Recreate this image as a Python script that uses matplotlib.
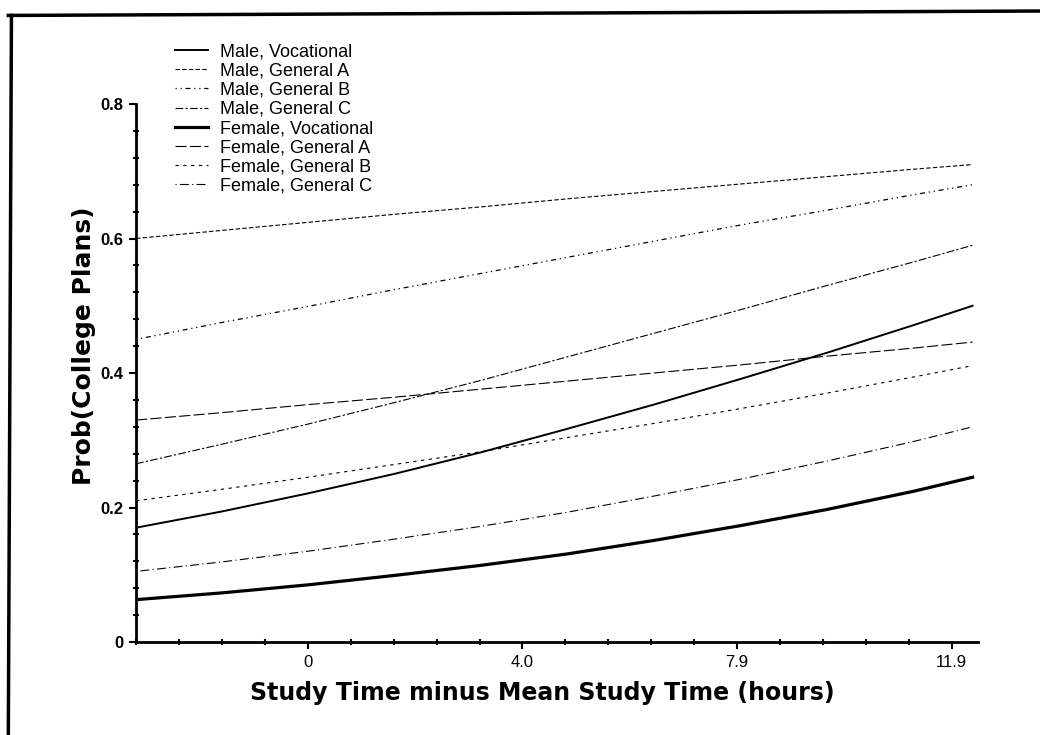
import matplotlib
matplotlib.use("Agg")
import matplotlib.pyplot as plt
from matplotlib.lines import Line2D
from matplotlib.ticker import FixedLocator, MultipleLocator

plt.rcParams['font.family'] = ['Liberation Sans', 'DejaVu Sans']

# study time minus mean (hours)
x = [-3.18, -1.6, 0.0, 1.6, 3.2, 4.8, 6.4, 8.0, 9.6, 11.2, 12.3]

male_voc = [0.170, 0.194, 0.221, 0.250, 0.282, 0.317, 0.353, 0.391, 0.430, 0.471, 0.500]
male_gen_a = [0.600, 0.612, 0.624, 0.636, 0.647, 0.659, 0.670, 0.681, 0.692, 0.703, 0.710]
male_gen_b = [0.450, 0.475, 0.499, 0.524, 0.548, 0.572, 0.596, 0.620, 0.642, 0.665, 0.680]
male_gen_c = [0.265, 0.294, 0.324, 0.356, 0.389, 0.424, 0.459, 0.494, 0.530, 0.565, 0.590]
female_voc = [0.063, 0.073, 0.085, 0.099, 0.114, 0.131, 0.151, 0.173, 0.197, 0.224, 0.245]
female_gen_a = [0.330, 0.341, 0.353, 0.364, 0.376, 0.388, 0.400, 0.412, 0.425, 0.437, 0.446]
female_gen_b = [0.210, 0.227, 0.245, 0.264, 0.283, 0.304, 0.325, 0.347, 0.370, 0.394, 0.411]
female_gen_c = [0.105, 0.119, 0.135, 0.153, 0.172, 0.193, 0.217, 0.242, 0.269, 0.298, 0.320]

labels = ["Male, Vocational", "Male, General A", "Male, General B", "Male, General C",
          "Female, Vocational", "Female, General A", "Female, General B", "Female, General C"]

xtick_pos = [0.0, 3.97, 7.94, 11.91]
xtick_labels = ["0", "4.0", "7.9", "11.9"]

series = [male_voc, male_gen_a, male_gen_b, male_gen_c,
          female_voc, female_gen_a, female_gen_b, female_gen_c]
styles = [
    dict(ls='-', lw=1.4),
    dict(ls=(0, (4, 2)), lw=0.8),
    dict(ls=(0, (1, 3, 1, 3, 4, 3)), lw=0.9),
    dict(ls=(0, (7, 2, 2, 2)), lw=0.8),
    dict(ls='-', lw=2.3),
    dict(ls=(0, (10, 3)), lw=0.8),
    dict(ls=(0, (3, 4)), lw=0.8),
    dict(ls=(0, (1, 3, 8, 3)), lw=0.8),
]

fig = plt.figure(figsize=(10.4, 7.35), dpi=100)
ax = fig.add_axes([0.1308, 0.1265, 0.8096, 0.732])

handles = []
for ys, st, lab in zip(series, styles, labels):
    h, = ax.plot(x, ys, color='black', label=lab, **st)
    handles.append(h)

ax.set_xlim(-3.18, 12.4)
ax.set_ylim(0, 0.8)

ax.xaxis.set_major_locator(FixedLocator(xtick_pos))
ax.set_xticklabels(xtick_labels)
ax.xaxis.set_minor_locator(MultipleLocator(3.97 / 5))
ax.set_yticks([0, 0.2, 0.4, 0.6, 0.8])
ax.set_yticklabels(["0", "0.2", "0.4", "0.6", "0.8"])
ax.yaxis.set_minor_locator(MultipleLocator(0.04))

ax.spines['top'].set_visible(False)
ax.spines['right'].set_visible(False)
for s in ['left', 'bottom']:
    ax.spines[s].set_linewidth(2)

ax.tick_params(which='major', direction='out', length=5, width=1.5, labelsize=12, pad=4)
ax.tick_params(which='minor', direction='inout', length=4, width=1.5)
for t in ax.get_yticklabels():
    t.set_fontweight('bold')

ax.set_xlabel("Study Time minus Mean Study Time (hours)", fontsize=17, fontweight='bold',
              family='DejaVu Sans', labelpad=8)
ax.xaxis.label.set_x(0.482)
ax.set_ylabel("Prob(College Plans)", fontsize=18, fontweight='bold',
              family='DejaVu Sans', labelpad=3)
ax.yaxis.label.set_y(0.55)

fig.legend(handles=handles, loc='upper left', bbox_to_anchor=(0.168, 0.941),
           frameon=False, fontsize=13, handlelength=1.85, handletextpad=0.65,
           labelspacing=0.12, borderaxespad=0, borderpad=0)

# outer frame of the scanned page
fig.add_artist(Line2D([0.008, 0.011], [0.0, 0.979], transform=fig.transFigure, color='black', lw=2.5))
fig.add_artist(Line2D([0.008, 1.0], [0.979, 0.985], transform=fig.transFigure, color='black', lw=2.5))

fig.savefig("out.png", dpi=100)
